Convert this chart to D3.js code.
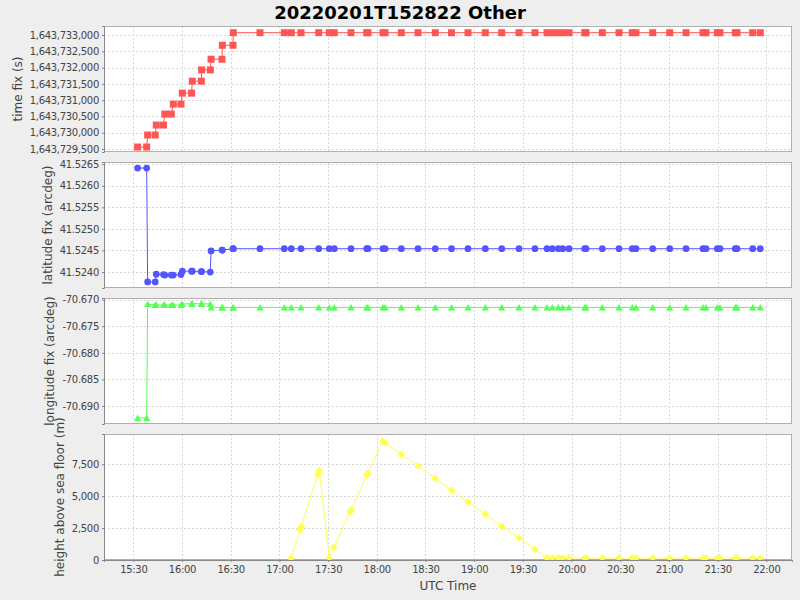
<!DOCTYPE html>
<html><head><meta charset="utf-8">
<script src="https://cdn.jsdelivr.net/npm/d3@7"></script>
<style>
html,body{margin:0;padding:0;background:#eeeeee;}
svg{display:block;font-family:"DejaVu Sans",sans-serif;}
.tick text{font-family:"DejaVu Sans",sans-serif;font-size:10px;fill:#444;letter-spacing:-0.3px;}
</style></head>
<body><svg id="c" width="800" height="600"></svg>
<script>
const title = "20220201T152822 Other";
const xLabel = "UTC Time";
const panelLabels = ["time fix (s)", "latitude fix (arcdeg)", "longitude fix (arcdeg)", "height above sea floor (m)"];

const times = ["15:32:40","15:38:15","15:38:50","15:43:30","15:44:10","15:48:36","15:49:25","15:53:25","15:54:39","15:59:23","16:00:11","16:05:55","16:06:21","16:11:54","16:12:05","16:17:26","16:17:55","16:24:40","16:24:52","16:31:26","16:31:37","16:48:04","17:03:02","17:07:21","17:13:19","17:24:14","17:30:46","17:33:50","17:44:08","17:53:48","17:54:36","18:03:50","18:05:05","18:15:07","18:25:25","18:36:04","18:46:03","18:56:13","19:06:52","19:16:59","19:27:38","19:37:29","19:44:53","19:48:09","19:51:51","19:54:34","19:58:26","20:08:07","20:08:55","20:18:58","20:29:15","20:37:26","20:39:43","20:50:01","21:00:29","21:10:32","21:21:00","21:22:51","21:29:49","21:31:28","21:40:54","21:41:56","21:51:37","21:56:18"];

const timeFix = [1643729561,1643729561,1643729929,1643729929,1643730235,1643730235,1643730572,1643730572,1643730878,1643730878,1643731215,1643731215,1643731582,1643731582,1643731928,1643731928,1643732256,1643732256,1643732685,1643732685,
1643733070,1643733070,1643733070,1643733070,1643733070,1643733070,1643733070,1643733070,1643733070,1643733070,1643733070,1643733070,1643733070,1643733070,1643733070,1643733070,1643733070,1643733070,1643733070,1643733070,1643733070,1643733070,1643733070,1643733070,1643733070,1643733070,1643733070,1643733070,1643733070,1643733070,1643733070,1643733070,1643733070,1643733070,1643733070,1643733070,1643733070,1643733070,1643733070,1643733070,1643733070,1643733070,1643733070,1643733070];

const latitude = [41.52641,41.52641,41.52377,41.52377,41.52395,41.52394,41.52393,41.52393,41.52393,41.52394,41.52402,41.52402,41.52402,41.52401,41.52401,41.52400,41.52449,41.52451,41.52451,41.52454,
41.52454,41.52454,41.52454,41.52454,41.52454,41.52454,41.52454,41.52454,41.52454,41.52454,41.52454,41.52454,41.52454,41.52454,41.52454,41.52454,41.52454,41.52454,41.52454,41.52454,41.52454,41.52454,41.52454,41.52454,41.52454,41.52454,41.52454,41.52454,41.52454,41.52454,41.52454,41.52454,41.52454,41.52454,41.52454,41.52454,41.52454,41.52454,41.52454,41.52454,41.52454,41.52454,41.52454,41.52454];

const longitude = [-70.69226,-70.69226,-70.67081,-70.67100,-70.67100,-70.67100,-70.67100,-70.67100,-70.67100,-70.67100,-70.67081,-70.67075,-70.67075,-70.67075,-70.67075,-70.67081,
-70.67145,-70.67145,-70.67145,-70.67145,-70.67145,-70.67145,-70.67145,-70.67145,-70.67145,-70.67145,-70.67145,-70.67145,-70.67145,-70.67145,-70.67145,-70.67145,-70.67145,-70.67145,-70.67145,-70.67145,-70.67145,-70.67145,-70.67145,-70.67145,-70.67145,-70.67145,-70.67145,-70.67145,-70.67145,-70.67145,-70.67145,-70.67145,-70.67145,-70.67145,-70.67145,-70.67145,-70.67145,-70.67145,-70.67145,-70.67145,-70.67145,-70.67145,-70.67145,-70.67145,-70.67145,-70.67145,-70.67145,-70.67145];

const heightTimes = ["17:07:10","17:12:42","17:13:30","17:23:37","17:24:36","17:30:46","17:33:39","17:43:31","17:44:19","17:53:48","17:54:36","18:03:39","18:05:16","18:15:07","18:25:25","18:36:04","18:46:03","18:56:13","19:06:52","19:16:59","19:27:38","19:37:29","19:44:53","19:48:09","19:51:51","19:54:34","19:58:26","20:08:07","20:08:55","20:18:58","20:29:15","20:37:26","20:39:43","20:50:01","21:00:29","21:10:32","21:21:00","21:22:51","21:29:49","21:31:28","21:40:54","21:41:56","21:51:37","21:56:18"];
const heights = [133,2344,2600,6695,7008,180,992,3773,3906,6640,6820,9320,9164,8281,7367,6406,5469,4531,3594,2633,1742,836,
156,156,156,156,156,156,156,156,156,156,156,156,156,156,156,156,156,156,156,156,156,156];

const xDomain = ["15:11:57","22:15:50"];
const xTicks = ["15:30","16:00","16:30","17:00","17:30","18:00","18:30","19:00","19:30","20:00","20:30","21:00","21:30","22:00"];

const ticks1 = [1643729500,1643730000,1643730500,1643731000,1643731500,1643732000,1643732500,1643733000];
const ticks2 = [41.5240,41.5245,41.5250,41.5255,41.5260,41.5265];
const ticks3 = [-70.690,-70.685,-70.680,-70.675,-70.670];
const ticks4 = [0,2500,5000,7500];
const domain1 = [1643729408,1643733276];
const domain2 = [41.52363,41.52655];
const domain3 = [-70.69338,-70.66968];
const domain4 = [0,9867];

const colors = ["#ff5555","#5555ff","#55ff55","#ffff55"];

const parseT = s => { const p = s.split(":").map(Number); return new Date(Date.UTC(2022,1,1,p[0],p[1],p[2]||0)); };
const loc = d3.formatLocale({decimal:".", thousands:",", grouping:[3], currency:["",""], minus:"-"});

const svg = d3.select("#c");
const L = 104, R = 792;
const panels = [[26,152],[162,288],[298,424],[434,560]];

const x = d3.scaleUtc().domain(xDomain.map(parseT)).range([L,R]);

svg.append("text").attr("x",400).attr("y",19).attr("text-anchor","middle")
  .style("font-size","18px").style("font-weight","bold").attr("fill","#000").text(title);

const series = [
  {t: times.map(parseT), v: timeFix, dom: domain1, ticks: ticks1, fmt: loc.format(",d"), shape: d3.symbolSquare, size: 49, labelX: 18},
  {t: times.map(parseT), v: latitude, dom: domain2, ticks: ticks2, fmt: loc.format(".4f"), shape: d3.symbolCircle, size: 36, labelX: 48},
  {t: times.map(parseT), v: longitude, dom: domain3, ticks: ticks3, fmt: loc.format(".3f"), shape: "tri", size: 0, labelX: 50},
  {t: heightTimes.map(parseT), v: heights, dom: domain4, ticks: ticks4, fmt: loc.format(",d"), shape: "dia", size: 0, labelX: 60}
];

series.forEach((s,i) => {
  const [top,bot] = panels[i];
  const y = d3.scaleLinear().domain(s.dom).range([bot,top]);
  const g = svg.append("g");
  g.append("rect").attr("x",L).attr("y",top).attr("width",R-L).attr("height",bot-top).attr("fill","#fff");
  g.selectAll(".vg").data(xTicks.map(parseT)).enter().append("line")
    .attr("x1",d=>Math.round(x(d))+0.5).attr("x2",d=>Math.round(x(d))+0.5).attr("y1",top).attr("y2",bot)
    .attr("stroke","#d8d8d8").attr("stroke-dasharray","2,2");
  g.selectAll(".hg").data(s.ticks).enter().append("line")
    .attr("x1",L).attr("x2",R).attr("y1",d=>Math.round(y(d))+0.5).attr("y2",d=>Math.round(y(d))+0.5)
    .attr("stroke","#d8d8d8").attr("stroke-dasharray","2,2");
  g.append("rect").attr("x",L+0.5).attr("y",top+0.5).attr("width",R-L-1).attr("height",bot-top-1)
    .attr("fill","none").attr("stroke","#b0b0b0");
  const ya = svg.append("g").attr("transform",`translate(${L},0)`)
    .call(d3.axisLeft(y).tickValues(s.ticks).tickFormat(s.fmt).tickSize(2).tickPadding(3));
  ya.attr("font-family",null).attr("font-size",null);
  ya.select(".domain").attr("stroke","#888");
  ya.selectAll(".tick line").attr("stroke","#888");
  svg.append("text").attr("transform",`translate(${s.labelX},${(top+bot)/2}) rotate(-90)`)
    .attr("text-anchor","middle").attr("dominant-baseline","central")
    .style("font-size","12px").attr("fill","#444").text(panelLabels[i]);
  const pts = s.t.map((t,k)=>[x(t), y(s.v[k])]);
  g.append("path").attr("d", d3.line()(pts)).attr("fill","none").attr("stroke",colors[i]).attr("stroke-width",1);
  const mk = g.selectAll(".m").data(pts).enter().append("path")
    .attr("transform",d=>`translate(${d[0]},${d[1]})`).attr("fill",colors[i]);
  if (s.shape === "tri") mk.attr("d","M0,-3.5L3.5,3L-3.5,3Z");
  else if (s.shape === "dia") mk.attr("d","M0,-3.8L3.8,0L0,3.8L-3.8,0Z");
  else mk.attr("d", d3.symbol().type(s.shape).size(s.size)());
});

const xa = svg.append("g").attr("transform",`translate(0,560)`)
  .call(d3.axisBottom(x).tickValues(xTicks.map(parseT)).tickFormat(d3.utcFormat("%H:%M")).tickSize(2).tickPadding(4));
xa.attr("font-family",null).attr("font-size",null);
xa.select(".domain").attr("stroke","#888");
xa.selectAll(".tick line").attr("stroke","#888");

svg.append("text").attr("x",(L+R)/2).attr("y",590).attr("text-anchor","middle")
  .style("font-size","12px").attr("fill","#444").text(xLabel);
</script></body></html>
